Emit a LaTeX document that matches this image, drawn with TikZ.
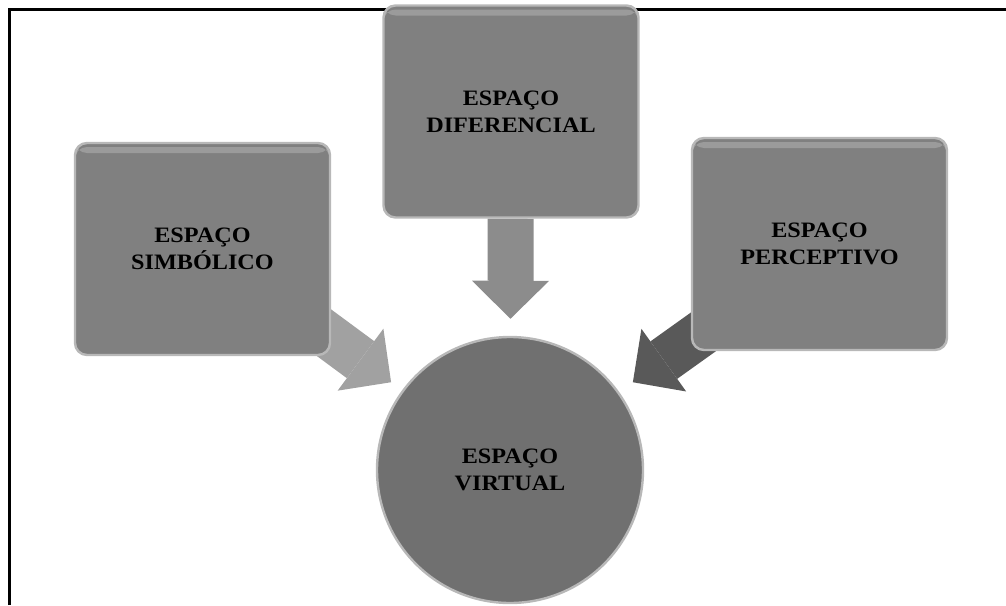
\documentclass[tikz,border=0pt]{standalone}
\usepackage{fontspec}
\setmainfont{Liberation Serif}[FakeStretch=1.1]
\usetikzlibrary{arrows.meta}
\usetikzlibrary{backgrounds}
\usetikzlibrary{positioning}

\begin{document}
\begin{tikzpicture}[
  x=0.5pt,y=-0.5pt,
  font=\fontsize{11}{13.5}\selectfont\bfseries,
  every node/.style={align=center},
  espaco/.style={draw=black!28,line width=1.2pt,rounded corners=6pt,fill=black!50,
    minimum width=127.5pt,minimum height=106pt,inner sep=0pt,
    path picture={\fill[white,opacity=0.22]
      ([yshift=-2pt]path picture bounding box.north west) rectangle
      ([yshift=-5pt]path picture bounding box.north east);}},
  virtual/.style={draw=black!28,line width=1.2pt,circle,fill=black!56,
    minimum size=133pt,inner sep=0pt},
  seta/.style={line width=23pt,-{Triangle[width=38.5pt,length=19pt,line width=0pt]}}]

  \useasboundingbox (0,0) rectangle (1006,605);

  % frame of the figure
  \draw[line width=1.5pt] (9.5,605) -- (9.5,9) -- (1006,9);

  % the four spaces
  \node[espaco] (simbolico) at (202.5,249) {ESPAÇO\\SIMBÓLICO};
  \node[espaco] (diferencial) at (511,111.5) {ESPAÇO\\DIFERENCIAL};
  \node[espaco] (perceptivo) at (819.5,244) {ESPAÇO\\PERCEPTIVO};
  \node[virtual] (virtual) at (510,470) {ESPAÇO\\VIRTUAL};

  % arrows behind the boxes
  \coordinate (simbout) at (300,315);
  \coordinate (percout) at (720,320);
  \begin{scope}[on background layer]
    \draw[seta,black!37,shorten >=6.8pt] (simbout) -- (virtual);
    \draw[seta,black!45,shorten >=8.5pt] (diferencial) -- (virtual);
    \draw[seta,black!65,shorten >=8.4pt] (percout) -- (virtual);
  \end{scope}
\end{tikzpicture}
\end{document}
